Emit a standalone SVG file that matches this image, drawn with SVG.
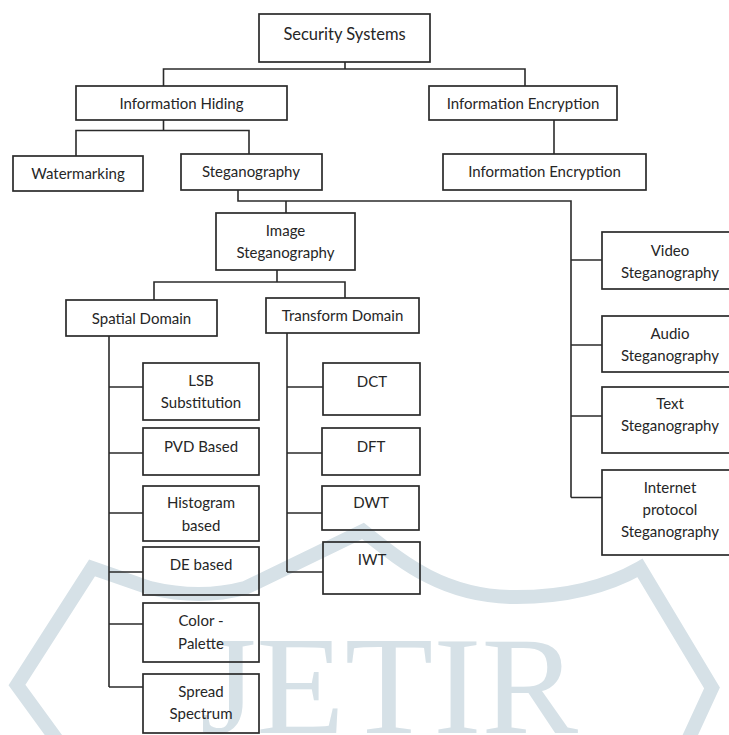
<svg xmlns="http://www.w3.org/2000/svg" width="729" height="735" viewBox="0 0 729 735">
<style>
.box{fill:none;stroke:#2b2b2b;stroke-width:1.7}
.ln{fill:none;stroke:#2b2b2b;stroke-width:1.6}
text{font-family:Lato,"Open Sans","Liberation Sans",sans-serif;font-size:15px;fill:#262626;text-anchor:middle}
.wm{fill:none;stroke:#d6e1e7;stroke-width:14;stroke-linejoin:miter;stroke-miterlimit:8}
.wmt{font-family:"Liberation Serif","DejaVu Serif",serif;font-size:140px;fill:#d6e1e7;text-anchor:start}
</style>
<rect width="729" height="735" fill="#fff"/>
<g id="watermark">
<path class="wm" d="M57,740 L17,685 L92,568 L150,588 Q200,600 245,588 L363,531 C400,560 440,595 510,597 C570,598 610,585 640,568 L712,688 L688,740"/>
<text class="wmt" x="200" y="733" textLength="378" lengthAdjust="spacingAndGlyphs">JETIR</text>
</g>
<g id="connectors">
<path class="ln" d="M345,62 V69 M163.5,86 V69 H525 V86"/>
<path class="ln" d="M163.5,120 V130.5 M76,156 V130.5 H249 V154"/>
<path class="ln" d="M554,120 V154"/>
<path class="ln" d="M238,190 V201 H571 V497.5 M286,201 V213"/>
<path class="ln" d="M571,260 H602 M571,345 H602 M571,416 H602 M571,497.5 H602"/>
<path class="ln" d="M277,270 V282 M154,300 V282 H345 V298"/>
<path class="ln" d="M109,336 V687 M109,387 H143 M109,453 H143 M109,513 H143 M109,572 H143 M109,624 H143 M109,687 H143"/>
<path class="ln" d="M287,333 V572 M287,387 H323 M287,453 H322 M287,513 H322 M287,572 H323"/>
</g>
<g id="security"><rect class="box" x="259" y="14" width="171" height="48"/><text x="344.5" y="40" style="font-size:16.5px">Security Systems</text></g>
<g id="infohiding"><rect class="box" x="76" y="86" width="211" height="34"/><text x="181.5" y="109">Information Hiding</text></g>
<g id="infoenc1"><rect class="box" x="429" y="86" width="188" height="34"/><text x="523" y="109">Information Encryption</text></g>
<g id="watermarking"><rect class="box" x="13" y="156" width="130" height="35"/><text x="78" y="179">Watermarking</text></g>
<g id="steganography"><rect class="box" x="181" y="154" width="141" height="36"/><text x="251" y="177">Steganography</text></g>
<g id="infoenc2"><rect class="box" x="443" y="154" width="203" height="36"/><text x="544.5" y="177">Information Encryption</text></g>
<g id="imagesteg"><rect class="box" x="216" y="213" width="139" height="57"/><text x="285.5" y="236">Image</text><text x="285.5" y="258">Steganography</text></g>
<g id="spatial"><rect class="box" x="66" y="300" width="151" height="36"/><text x="141.5" y="324">Spatial Domain</text></g>
<g id="transform"><rect class="box" x="266" y="298" width="153" height="35"/><text x="342.5" y="321">Transform Domain</text></g>
<g id="video"><rect class="box" x="602" y="232" width="136" height="57"/><text x="670" y="256">Video</text><text x="670" y="278">Steganography</text></g>
<g id="audio"><rect class="box" x="602" y="316" width="136" height="56"/><text x="670" y="339">Audio</text><text x="670" y="360.5">Steganography</text></g>
<g id="textsteg"><rect class="box" x="602" y="387" width="136" height="66"/><text x="670" y="409">Text</text><text x="670" y="430.5">Steganography</text></g>
<g id="internet"><rect class="box" x="602" y="470" width="136" height="85"/><text x="670" y="493">Internet</text><text x="670" y="515">protocol</text><text x="670" y="537">Steganography</text></g>
<g id="lsb"><rect class="box" x="143" y="363" width="116" height="57"/><text x="201" y="386">LSB</text><text x="201" y="408">Substitution</text></g>
<g id="pvd"><rect class="box" x="143" y="428" width="116" height="47"/><text x="201" y="452">PVD Based</text></g>
<g id="histogram"><rect class="box" x="143" y="486" width="116" height="55"/><text x="201" y="508">Histogram</text><text x="201" y="531">based</text></g>
<g id="de"><rect class="box" x="143" y="547" width="116" height="48"/><text x="201" y="570">DE based</text></g>
<g id="color"><rect class="box" x="143" y="603" width="116" height="59"/><text x="201" y="626">Color -</text><text x="201" y="649">Palette</text></g>
<g id="spread"><rect class="box" x="143" y="674" width="116" height="59"/><text x="201" y="697">Spread</text><text x="201" y="719">Spectrum</text></g>
<g id="dct"><rect class="box" x="323" y="363" width="97" height="52"/><text x="372" y="387">DCT</text></g>
<g id="dft"><rect class="box" x="322" y="428" width="98" height="47"/><text x="371" y="452">DFT</text></g>
<g id="dwt"><rect class="box" x="322" y="486" width="97" height="44"/><text x="371" y="508">DWT</text></g>
<g id="iwt"><rect class="box" x="323" y="542" width="97" height="52"/><text x="372" y="565">IWT</text></g>
</svg>
